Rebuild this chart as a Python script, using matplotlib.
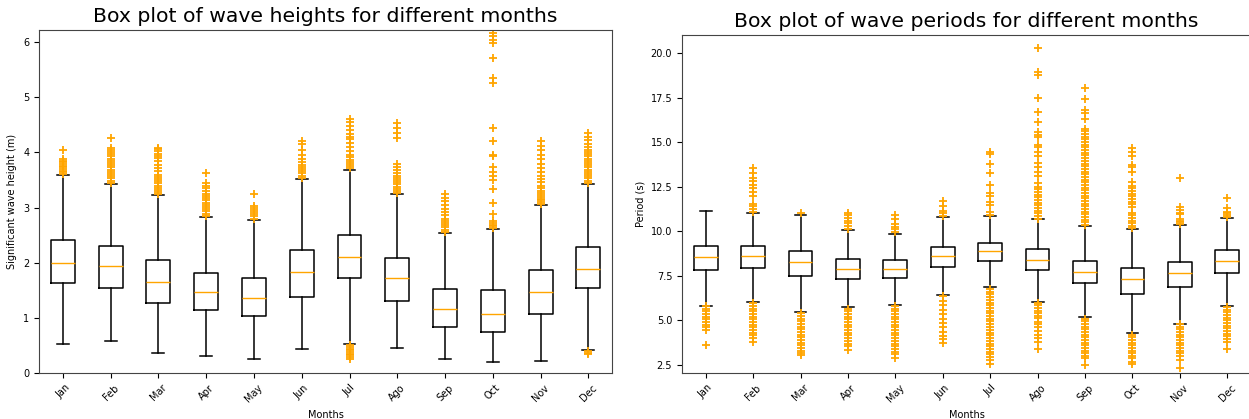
import matplotlib
matplotlib.use("Agg")
import matplotlib.pyplot as plt

months = ["Jan", "Feb", "Mar", "Apr", "May", "Jun",
          "Jul", "Ago", "Sep", "Oct", "Nov", "Dec"]

# wave heights (m) - box stats
h_lo  = [0.52, 0.58, 0.36, 0.30, 0.25, 0.43, 0.53, 0.45, 0.26, 0.19, 0.22, 0.42]
h_q1  = [1.63, 1.55, 1.27, 1.15, 1.04, 1.38, 1.72, 1.30, 0.84, 0.75, 1.07, 1.54]
h_med = [2.00, 1.94, 1.65, 1.47, 1.36, 1.83, 2.10, 1.73, 1.16, 1.07, 1.47, 1.89]
h_q3  = [2.41, 2.30, 2.05, 1.82, 1.73, 2.23, 2.50, 2.08, 1.53, 1.50, 1.87, 2.29]
h_hi  = [3.59, 3.43, 3.22, 2.83, 2.78, 3.52, 3.69, 3.24, 2.54, 2.61, 3.05, 3.42]
h_fliers = [
    [3.61, 3.64, 3.67, 3.70, 3.73, 3.76, 3.79, 3.82, 3.85, 3.88, 4.04],
    [3.45, 3.49, 3.53, 3.57, 3.61, 3.65, 3.69, 3.73, 3.77, 3.81, 3.85, 3.89,
     3.93, 3.97, 4.01, 4.05, 4.09, 4.27],
    [3.24, 3.28, 3.32, 3.36, 3.40, 3.44, 3.48, 3.52, 3.56, 3.60, 3.66, 3.72,
     3.78, 3.84, 3.90, 3.94, 3.98, 4.02, 4.06, 4.09],
    [2.85, 2.89, 2.93, 2.97, 3.01, 3.05, 3.09, 3.13, 3.17, 3.21, 3.25, 3.30,
     3.35, 3.40, 3.45, 3.62],
    [2.80, 2.84, 2.88, 2.92, 2.96, 3.00, 3.02, 3.24],
    [3.54, 3.58, 3.62, 3.66, 3.70, 3.74, 3.78, 3.82, 3.88, 3.95, 4.05, 4.15, 4.21],
    [0.26, 0.29, 0.32, 0.35, 0.38, 0.41, 0.44, 0.47, 0.50,
     3.71, 3.75, 3.79, 3.83, 3.87, 3.91, 3.95, 4.02, 4.10, 4.18, 4.24, 4.28,
     4.33, 4.40, 4.48, 4.55, 4.61],
    [3.26, 3.30, 3.34, 3.38, 3.42, 3.46, 3.50, 3.54, 3.58, 3.62, 3.68, 3.74,
     3.80, 4.27, 4.36, 4.45, 4.53],
    [2.56, 2.60, 2.64, 2.68, 2.72, 2.76, 2.80, 2.86, 2.92, 2.98, 3.05, 3.12,
     3.18, 3.24],
    [2.63, 2.66, 2.69, 2.72, 2.75, 2.88, 3.08, 3.34, 3.50, 3.58, 3.65, 3.73,
     3.93, 3.96, 4.21, 4.45, 5.26, 5.35, 5.71, 5.99, 6.05, 6.11, 6.16],
    [3.07, 3.10, 3.13, 3.16, 3.19, 3.22, 3.26, 3.30, 3.35, 3.40, 3.46, 3.52,
     3.58, 3.65, 3.72, 3.80, 3.88, 3.96, 4.05, 4.12, 4.21],
    [0.34, 0.37, 0.40,
     3.45, 3.49, 3.53, 3.57, 3.61, 3.65, 3.69, 3.73, 3.77, 3.81, 3.85, 3.89,
     3.93, 3.97, 4.01, 4.05, 4.10, 4.15, 4.22, 4.28, 4.35],
]

# wave periods (s)
p_lo  = [5.83, 6.05, 5.45, 5.73, 5.87, 6.41, 6.86, 6.05, 5.17, 4.31, 4.80, 5.83]
p_q1  = [7.83, 7.92, 7.51, 7.34, 7.38, 8.02, 8.31, 7.80, 7.08, 6.46, 6.89, 7.64]
p_med = [8.56, 8.59, 8.26, 7.88, 7.88, 8.59, 8.87, 8.39, 7.73, 7.30, 7.68, 8.33]
p_q3  = [9.16, 9.16, 8.88, 8.46, 8.37, 9.14, 9.36, 8.99, 8.35, 7.96, 8.30, 8.95]
p_hi  = [11.14, 11.04, 10.93, 10.07, 9.87, 10.78, 10.86, 10.67, 10.30, 10.11, 10.33, 10.76]
p_fliers = [
    [3.62, 4.46, 4.60, 4.75, 4.90, 5.05, 5.20, 5.35, 5.50, 5.65, 5.80],
    [3.81, 4.00, 4.15, 4.30, 4.45, 4.60, 4.75, 4.90, 5.05, 5.20, 5.35, 5.50,
     5.65, 5.80, 5.95, 11.10, 11.25, 11.40, 11.55, 12.00, 12.20, 12.40, 12.60,
     12.80, 13.00, 13.25, 13.53],
    [3.06, 3.15, 3.30, 3.45, 3.60, 3.75, 3.90, 4.05, 4.20, 4.35, 4.50, 4.65,
     4.80, 4.95, 5.10, 5.25, 5.40, 11.04],
    [3.34, 3.55, 3.70, 3.85, 4.00, 4.15, 4.30, 4.45, 4.60, 4.75, 4.90, 5.05,
     5.20, 5.35, 5.50, 5.65, 10.15, 10.30, 10.45, 10.60, 10.75, 10.90, 11.00],
    [2.87, 3.10, 3.25, 3.40, 3.55, 3.70, 3.85, 4.00, 4.15, 4.30, 4.45, 4.60,
     4.75, 4.90, 5.05, 5.20, 5.35, 5.50, 5.65, 5.80, 9.95, 10.10, 10.25, 10.40,
     10.70, 10.91],
    [3.72, 3.95, 4.10, 4.35, 4.60, 4.85, 5.10, 5.35, 5.60, 5.85, 6.10, 6.35,
     10.85, 11.00, 11.15, 11.40, 11.70],
    [2.56, 2.78, 2.95, 3.10, 3.25, 3.40, 3.55, 3.70, 3.85, 4.00, 4.15, 4.30,
     4.46, 4.65, 4.80, 4.95, 5.10, 5.25, 5.40, 5.55, 5.70, 5.85, 6.00, 6.15,
     6.30, 6.45, 6.60, 6.75, 10.91, 11.10, 11.47, 11.66, 12.00, 12.13, 12.60,
     13.25, 13.76, 14.33, 14.46],
    [3.40, 3.81, 4.00, 4.20, 4.40, 4.60, 4.80, 4.93, 5.12, 5.25, 5.40, 5.55,
     5.70, 5.85, 6.00, 10.70, 10.85, 11.00, 11.15, 11.30, 11.45, 11.60, 11.75,
     11.90, 12.05, 12.20, 12.35, 12.50, 12.69, 13.12, 13.34, 13.62, 13.81,
     14.22, 14.46, 14.71, 14.84, 15.27, 15.40, 15.58, 16.15, 16.71, 17.49,
     18.76, 18.95, 20.26],
    [2.50, 2.88, 3.00, 3.15, 3.30, 3.45, 3.60, 3.75, 3.90, 4.05, 4.20, 4.35,
     4.50, 4.65, 4.80, 4.95, 5.10, 10.35, 10.50, 10.65, 10.80, 10.95, 11.10,
     11.25, 11.40, 11.55, 11.70, 11.85, 12.00, 12.15, 12.30, 12.45, 12.60,
     12.75, 12.90, 13.05, 13.20, 13.35, 13.50, 13.65, 13.80, 13.95, 14.10,
     14.25, 14.40, 14.55, 14.70, 14.85, 15.00, 15.15, 15.30, 15.45, 15.60,
     15.72, 16.28, 16.65, 16.80, 17.40, 18.02],
    [2.54, 2.69, 2.88, 3.00, 3.15, 3.30, 3.45, 3.60, 3.75, 3.90, 4.05, 4.20,
     10.17, 10.30, 10.45, 10.60, 10.75, 10.90, 11.05, 11.38, 11.50, 11.65,
     11.80, 11.95, 12.10, 12.25, 12.40, 12.55, 12.78, 13.34, 13.62, 13.72,
     14.22, 14.46, 14.65],
    [2.31, 2.78, 3.00, 3.16, 3.30, 3.45, 3.60, 3.75, 3.90, 4.05, 4.20, 4.35,
     4.50, 4.65, 4.78, 10.40, 10.50, 10.60, 10.70, 10.98, 11.05, 11.19, 11.38,
     12.97],
    [3.38, 3.81, 3.95, 4.10, 4.25, 4.40, 4.55, 4.70, 4.85, 5.00, 5.15, 5.30,
     5.45, 5.60, 5.75, 10.80, 10.90, 11.00, 11.10, 11.29, 11.88],
]


def make_stats(lo, q1, med, q3, hi, fliers):
    return [dict(label=m, whislo=a, q1=b, med=c, q3=d, whishi=e, fliers=f)
            for m, a, b, c, d, e, f in zip(months, lo, q1, med, q3, hi, fliers)]


def draw(ax, stats, title, ylabel):
    ax.bxp(stats,
           boxprops=dict(color="black", linewidth=1.1),
           whiskerprops=dict(color="black", linewidth=1.1),
           capprops=dict(color="black", linewidth=1.1),
           medianprops=dict(color="orange", linewidth=1),
           flierprops=dict(marker="+", markeredgecolor="orange",
                           markersize=6, markeredgewidth=1.3, linestyle="none"))
    ax.set_title(title, fontsize=14.7)
    ax.set_xlabel("Months", fontsize=7)
    ax.set_ylabel(ylabel, fontsize=7)
    ax.tick_params(labelsize=7)
    for lab in ax.get_xticklabels():
        lab.set_rotation(45)
    for s in ax.spines.values():
        s.set_color("#444444")


fig = plt.figure(figsize=(12.49, 4.19), dpi=100)
ax1 = fig.add_axes([0.0312, 0.110, 0.459, 0.818])
ax2 = fig.add_axes([0.546, 0.110, 0.4556, 0.806])

draw(ax1, make_stats(h_lo, h_q1, h_med, h_q3, h_hi, h_fliers),
     "Box plot of wave heights for different months", "Significant wave height (m)")
ax1.set_ylim(0, 6.22)

draw(ax2, make_stats(p_lo, p_q1, p_med, p_q3, p_hi, p_fliers),
     "Box plot of wave periods for different months", "Period (s)")
ax2.set_ylim(2.05, 21.0)
ax2.set_yticks([2.5, 5.0, 7.5, 10.0, 12.5, 15.0, 17.5, 20.0])

fig.savefig("out.png", dpi=100)
